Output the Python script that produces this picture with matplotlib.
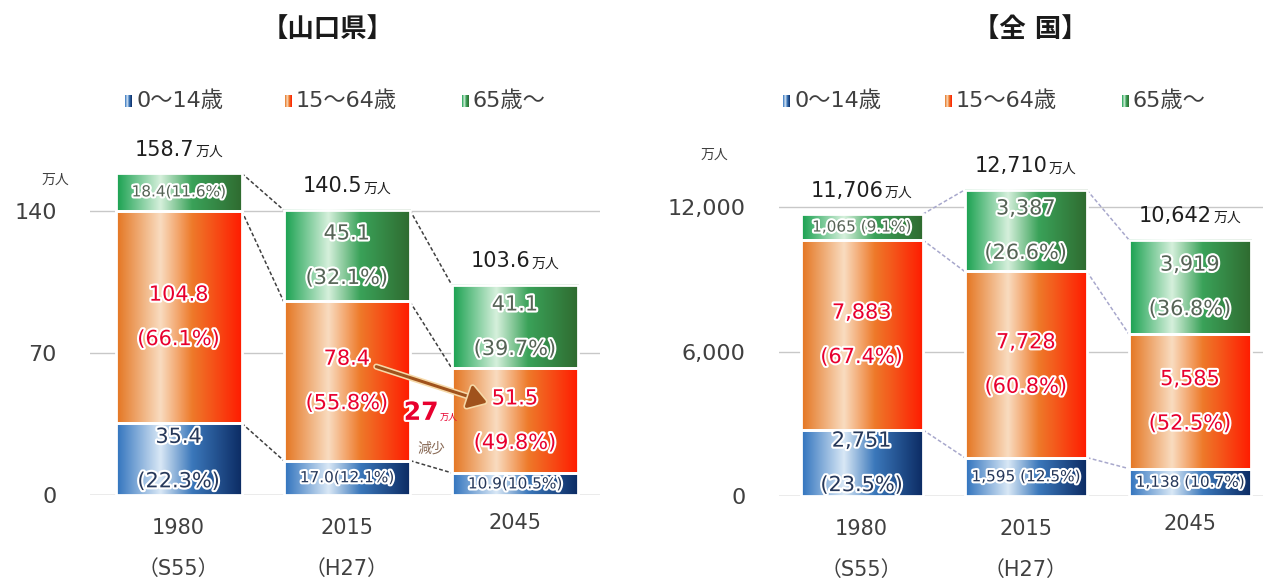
import numpy as np
import matplotlib
matplotlib.use('Agg')
import matplotlib.pyplot as plt
from matplotlib.colors import LinearSegmentedColormap
from matplotlib.patches import Rectangle, FancyArrowPatch
from matplotlib.offsetbox import TextArea, HPacker, AnnotationBbox
import matplotlib.patheffects as pe

plt.rcParams['font.family'] = ['DejaVu Sans', 'Noto Sans CJK JP']

# データ
years = ['1980', '2015', '2045']
eras = ['（S55）', '（H27）', '']
groups = ['0～14歳', '15～64歳', '65歳～']

# 山口県（万人）
yama_young = [35.4, 17.0, 10.9]
yama_work = [104.8, 78.4, 51.5]
yama_old = [18.4, 45.1, 41.1]
yama_young_pct = ['22.3%', '12.1%', '10.5%']
yama_work_pct = ['66.1%', '55.8%', '49.8%']
yama_old_pct = ['11.6%', '32.1%', '39.7%']
yama_total = ['158.7', '140.5', '103.6']
yama_ticks = [0, 70, 140]
yama_ticklabels = ['0', '70', '140']

# 全国（万人）
zen_young = [2751, 1595, 1138]
zen_work = [7883, 7728, 5585]
zen_old = [1065, 3387, 3919]
zen_young_pct = ['23.5%', '12.5%', '10.7%']
zen_work_pct = ['67.4%', '60.8%', '52.5%']
zen_old_pct = ['9.1%', '26.6%', '36.8%']
zen_total = ['11,706', '12,710', '10,642']
zen_ticks = [0, 6000, 12000]
zen_ticklabels = ['0', '6,000', '12,000']

W, H = 1263, 584
fig = plt.figure(figsize=(W / 100, H / 100), dpi=100)

cm_blue = LinearSegmentedColormap.from_list('b', [(0, '#2f72bd'), (0.35, '#d9e8f6'), (0.6, '#3b78bb'), (1, '#0b2a62')])
cm_orange = LinearSegmentedColormap.from_list('o', [(0, '#e4741f'), (0.35, '#f9dcc0'), (0.6, '#ee7a2a'), (1, '#ff1a00')])
cm_green = LinearSegmentedColormap.from_list('g', [(0, '#17a04e'), (0.35, '#d6f0dc'), (0.6, '#3aa259'), (1, '#2f6a2f')])
cmaps = [cm_blue, cm_orange, cm_green]
txt_colors = ['#26385a', '#e8002e', '#566456']
white_edge = [pe.withStroke(linewidth=3, foreground='white')]

grad = np.linspace(0, 1, 256).reshape(1, -1)


def px_axes(left, right, bottom, top):
    return fig.add_axes([left / W, 1 - bottom / H, (right - left) / W, (bottom - top) / H])


def draw_panel(ax, young, work, old, pcts, totals, xlim, ylim, ticks, ticklabels, fmt, sep, single_lim,
               line_color, width):
    x = np.arange(len(years))
    segs = [young, work, old]
    bottoms = np.zeros(len(years))
    bounds = []
    for k, seg in enumerate(segs):
        for i in range(len(years)):
            b, h = bottoms[i], seg[i]
            ax.imshow(grad, cmap=cmaps[k], aspect='auto', interpolation='bicubic',
                      extent=[x[i] - width / 2, x[i] + width / 2, b, b + h], zorder=2)
            ax.add_patch(Rectangle((x[i] - width / 2, b), width, h, fill=False, ec='white', lw=2, zorder=3))
            val = fmt(seg[i])
            if h < single_lim:
                ax.text(x[i], b + h / 2, f'{val}{sep}({pcts[k][i]})', ha='center', va='center', fontsize=11,
                        color=txt_colors[k], path_effects=white_edge, zorder=5)
            else:
                ax.annotate(val, (x[i], b + h / 2), xytext=(0, 16), textcoords='offset points',
                            ha='center', va='center', fontsize=15, color=txt_colors[k],
                            path_effects=white_edge, zorder=5)
                ax.annotate(f'({pcts[k][i]})', (x[i], b + h / 2), xytext=(0, -16), textcoords='offset points',
                            ha='center', va='center', fontsize=15, color=txt_colors[k],
                            path_effects=white_edge, zorder=5)
        bottoms = bottoms + np.array(seg)
        bounds.append(bottoms.copy())

    # 破線
    for bnd in bounds:
        for i in range(len(years) - 1):
            ax.plot([x[i] + width / 2, x[i + 1] - width / 2], [bnd[i], bnd[i + 1]], ls=(0, (2.5, 1.5)),
                    lw=1.1, color=line_color, zorder=1)

    # 合計
    for i in range(len(years)):
        box = HPacker(children=[TextArea(totals[i], textprops=dict(fontsize=15, color='#1f1f1f')),
                                TextArea('万人', textprops=dict(fontsize=10, color='#1f1f1f'))],
                      align='baseline', pad=0, sep=1)
        ab = AnnotationBbox(box, (x[i], bottoms[i]), xybox=(0, 17), boxcoords='offset points',
                            frameon=False, box_alignment=(0.5, 0.5), zorder=6)
        ax.add_artist(ab)

    ax.set_xlim(*xlim)
    ax.set_ylim(*ylim)
    ax.set_yticks(ticks)
    ax.set_yticklabels(ticklabels)
    ax.tick_params(axis='y', length=0, pad=24, labelsize=16, labelcolor='#404040')
    ax.set_xticks([])
    ax.grid(axis='y', color='#c8c8c8', lw=1)
    ax.set_axisbelow(True)
    for s in ax.spines.values():
        s.set_visible(False)
    ax.axhline(0, color='#c8c8c8', lw=1, zorder=1)

    for i in range(len(years)):
        ax.annotate(years[i], (x[i], 0), xytext=(0, -24 if eras[i] else -20), textcoords='offset points',
                    ha='center', va='center', fontsize=15, color='#404040', annotation_clip=False)
        if eras[i]:
            ax.annotate(eras[i], (x[i], 0), xytext=(0, -53), textcoords='offset points',
                        ha='center', va='center', fontsize=15, color='#404040', annotation_clip=False)
    return x, bounds


# 山口県
ax1 = px_axes(90, 600, 495, 140)
px1 = 168
xl1 = (-(178.5 - 90) / px1, 2 + (600 - 515) / px1)
x1, b1 = draw_panel(ax1, yama_young, yama_work, yama_old, [yama_young_pct, yama_work_pct, yama_old_pct],
                    yama_total, xl1, (0, 355 / 2.0286), yama_ticks, yama_ticklabels,
                    lambda v: f'{v:.1f}', '', 25, '#404040', 0.75)
ax1.text(-0.096, 0.887, '万人', transform=ax1.transAxes, ha='left', va='center', fontsize=10, color='#404040')

# 減少の矢印
y_from = yama_young[1] + yama_work[1] / 2
y_to = yama_young[2] + yama_work[2] / 2
arr = FancyArrowPatch((1.16, y_from + 7.5), (1.85, y_to + 8.5), arrowstyle='-|>,head_length=7,head_width=4.5',
                      mutation_scale=1.6, color='#a0521c', lw=2.2, zorder=7,
                      path_effects=[pe.withStroke(linewidth=4.5, foreground='#f6d9a8')])
ax1.add_patch(arr)
diff = round(yama_work[1] - yama_work[2])
box = HPacker(children=[TextArea(str(diff), textprops=dict(fontsize=18, color='#e8002e', fontweight='bold',
                                                           path_effects=white_edge)),
                        TextArea('万人', textprops=dict(fontsize=6.5, color='#e8002e'))],
              align='baseline', pad=0, sep=1)
ax1.add_artist(AnnotationBbox(box, (1.5, 40.5), frameon=False, box_alignment=(0.5, 0.5), zorder=8))
ax1.text(1.5, 23, '減少', ha='center', va='center', fontsize=10, color='#8a6c58', zorder=8)

# 全国
ax2 = px_axes(779, 1263, 496, 147)
px2 = 164
xl2 = (-(861.5 - 779) / px2, 2 + (1263 - 1190) / px2)
x2, b2 = draw_panel(ax2, zen_young, zen_work, zen_old, [zen_young_pct, zen_work_pct, zen_old_pct],
                    zen_total, xl2, (0, 349 / 0.024083), zen_ticks, zen_ticklabels,
                    lambda v: f'{v:,}', ' ', 2000, '#a8a8cc', 0.744)
ax2.text(-0.163, 0.977, '万人', transform=ax2.transAxes, ha='left', va='center', fontsize=10, color='#404040')

# タイトル
fig.text(328 / W, 1 - 30 / H, '【山口県】', ha='center', va='center', fontsize=19, fontweight='bold', color='#1a1a1a')
fig.text(1030 / W, 1 - 30 / H, '【全 国】', ha='center', va='center', fontsize=19, fontweight='bold', color='#1a1a1a')

# 凡例
ov = fig.add_axes([0, 0, 1, 1])
ov.set_xlim(0, W)
ov.set_ylim(H, 0)
ov.axis('off')
for starts in ([125, 285, 462], [783, 945, 1122]):
    for k, x0 in enumerate(starts):
        ov.imshow(grad, cmap=cmaps[k], aspect='auto', extent=[x0, x0 + 7, 107, 95], zorder=2)
        ov.text(x0 + 11, 101, groups[k], ha='left', va='center', fontsize=16, color='#404040')
ov.set_xlim(0, W)
ov.set_ylim(H, 0)

fig.savefig('out.png', dpi=100, facecolor='white')
